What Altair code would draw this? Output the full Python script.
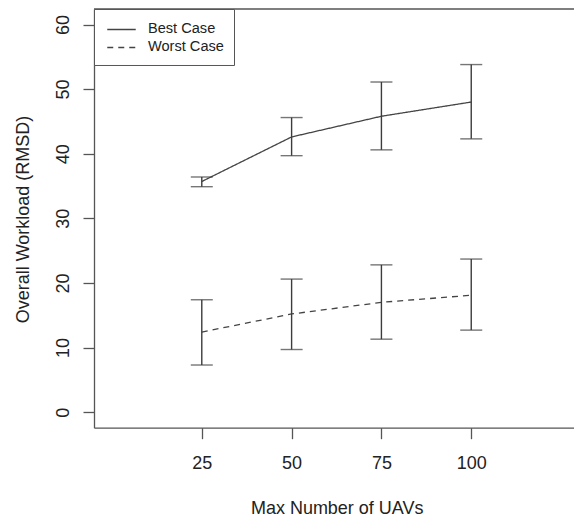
import altair as alt
import pandas as pd

# ---- data ----
uavs = [25, 50, 75, 100]
series_names = ["Best Case", "Worst Case"]
best_mean = [35.7, 42.6, 45.8, 48.0]
best_lo = [34.9, 39.7, 40.6, 42.3]
best_hi = [36.4, 45.6, 51.1, 53.8]
worst_mean = [12.4, 15.2, 17.0, 18.1]
worst_lo = [7.3, 9.7, 11.3, 12.7]
worst_hi = [17.4, 20.6, 22.8, 23.7]
x_ticks = [25, 50, 75, 100]
y_ticks = [0, 10, 20, 30, 40, 50, 60]

rows = []
for name, m, lo, hi in [("Best Case", best_mean, best_lo, best_hi),
                        ("Worst Case", worst_mean, worst_lo, worst_hi)]:
    for i, u in enumerate(uavs):
        rows.append({"uavs": u, "series": name, "mean": m[i], "lo": lo[i], "hi": hi[i]})
df = pd.DataFrame(rows)

FONT = "Liberation Sans"
INK = "#3c3c3c"
FRAME = "#555555"
W, H = 480, 418.7

xscale = alt.Scale(domain=[-5, 128.6], nice=False, zero=False)
yscale = alt.Scale(domain=[-2.4, 62.4], nice=False, zero=False)

x_axis = alt.Axis(values=x_ticks, title="Max Number of UAVs",
                  labelBaseline="alphabetic", labelPadding=30,
                  labelFlush=False, labelOverlap=False,
                  titleX=242.7, titleY=86.3, titleAlign="center",
                  titleBaseline="alphabetic")
y_axis = alt.Axis(values=y_ticks, title="Overall Workload (RMSD)",
                  labelAngle=270, labelAlign="center", labelBaseline="alphabetic",
                  labelPadding=15, labelFlush=False, labelOverlap=False,
                  titleAngle=270, titleX=-66, titleY=210, titleAlign="center",
                  titleBaseline="alphabetic")


def X():
    return alt.X("uavs:Q", scale=xscale, axis=x_axis)


def Y(field):
    return alt.Y(field, scale=yscale, axis=y_axis)


base = alt.Chart(df)

lines = base.mark_line(color="#444444", strokeWidth=1.3).encode(
    x=X(),
    y=Y("mean:Q"),
    strokeDash=alt.StrokeDash(
        "series:N",
        scale=alt.Scale(domain=series_names, range=[[1, 0], [6, 5]]),
        legend=alt.Legend(title=None, orient="top-left", offset=0,
                          symbolType="M-1.5,0H1.5", symbolSize=361,
                          symbolStrokeWidth=1.3, symbolStrokeColor="#444444",
                          symbolFillColor="transparent",
                          symbolOffset=7,
                          labelFont=FONT, labelFontSize=14.6, labelColor="#222222",
                          labelOffset=16, padding=10, rowPadding=0,
                          strokeColor=FRAME, fillColor="white"),
    ),
    detail="series:N",
)

rules = base.mark_rule(color=INK, strokeWidth=1.4).encode(
    x=X(), y=Y("lo:Q"), y2="hi:Q",
)

caps_lo = base.mark_tick(orient="horizontal", size=22, thickness=1.4, color=INK).encode(
    x=X(), y=Y("lo:Q"),
)
caps_hi = base.mark_tick(orient="horizontal", size=22, thickness=1.4, color=INK).encode(
    x=X(), y=Y("hi:Q"),
)

# top edge of the plot frame (right edge lies outside the picture)
top_edge = alt.Chart(pd.DataFrame({"k": [0]})).mark_rule(
    color=FRAME, strokeWidth=1.3
).encode(x=alt.value(0), x2=alt.value(W + 5), y=alt.value(0))

chart = alt.layer(lines, rules, caps_lo, caps_hi, top_edge).properties(
    width=W, height=H,
    autosize=alt.AutoSizeParams(type="none"),
    padding={"left": 94, "top": 9, "right": 0, "bottom": 92},
).configure_view(
    stroke=None
).configure_axis(
    domain=True, domainColor=FRAME, domainWidth=1.3, grid=False,
    tickColor=FRAME, tickSize=11, tickWidth=1.3,
    labelFont=FONT, labelFontSize=18, labelColor="#222222",
    titleFont=FONT, titleFontSize=18, titleFontWeight="normal", titleColor="#222222",
)

chart.save("out.html", embed_options={"renderer": "svg", "actions": False})
